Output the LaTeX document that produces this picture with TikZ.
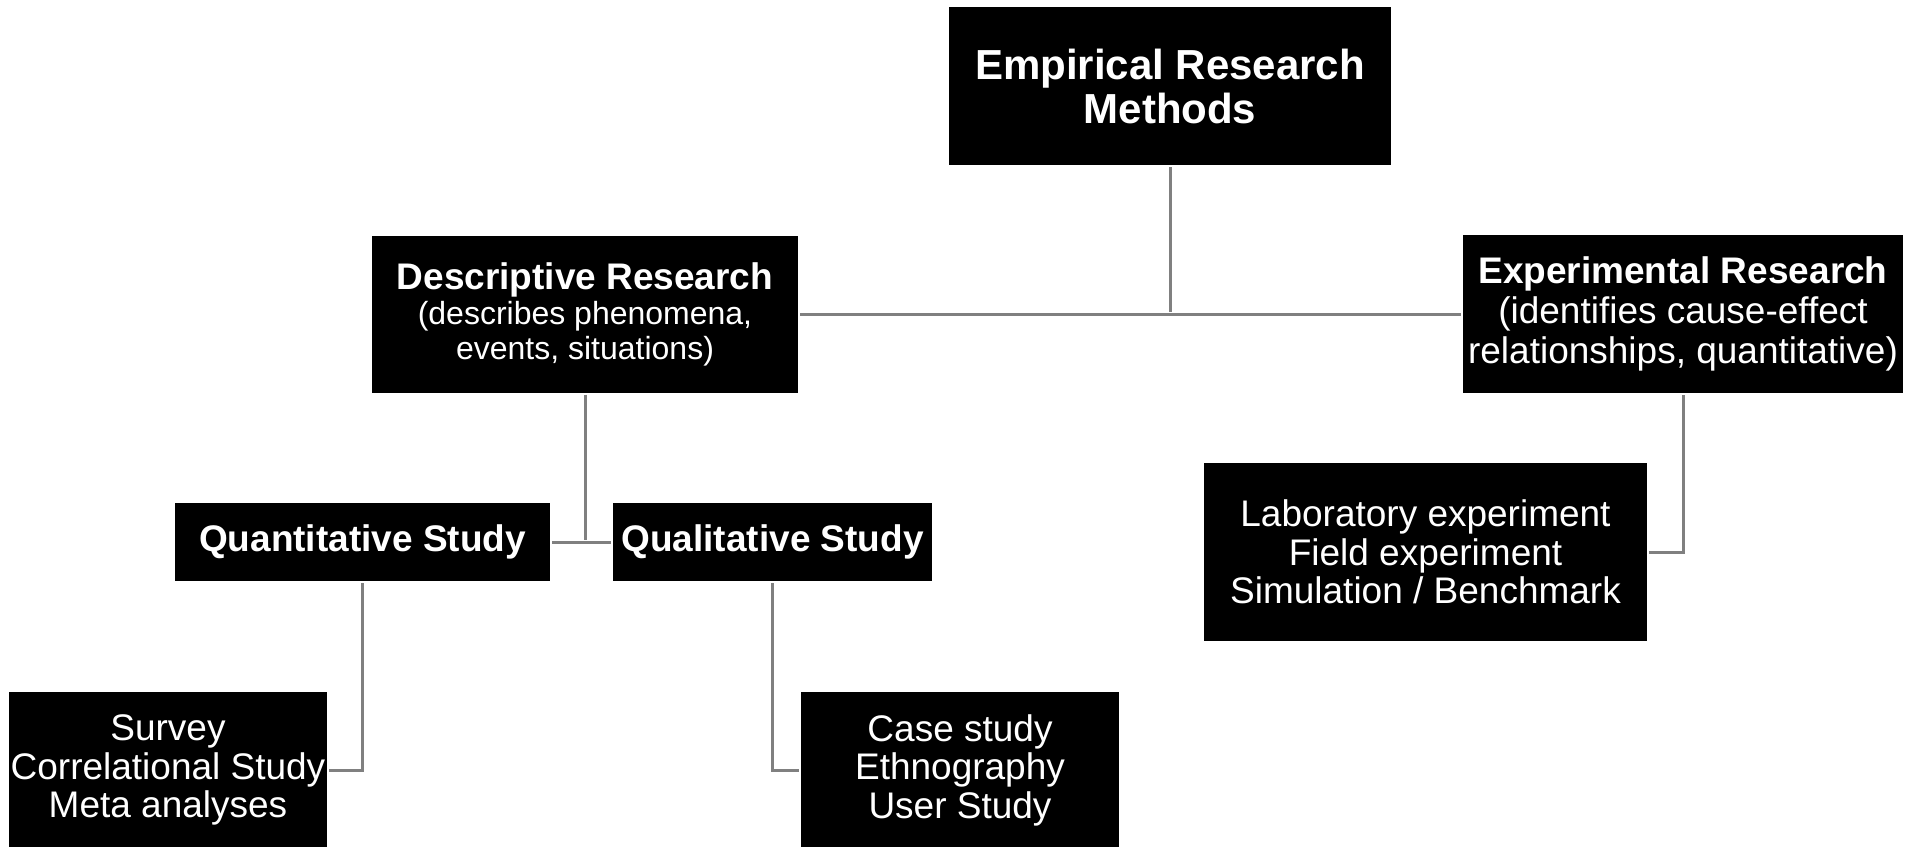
\documentclass[tikz,border=0pt]{standalone}
\usepackage{fontspec}
\setmainfont{Liberation Sans}

\newcommand{\titlesize}{\fontsize{42}{44}\selectfont\bfseries}
\newcommand{\headsize}{\fontsize{37}{40}\selectfont}
\newcommand{\notesize}{\fontsize{32}{35}\selectfont}
\newcommand{\listsize}{\fontsize{37}{38.5}\selectfont}

\tikzset{
  box/.style={fill=black, text=white, align=center, inner sep=0pt},
  link/.style={draw=black!50, line width=3pt, shorten <=2pt, shorten >=2pt},
}

\begin{document}
\begin{tikzpicture}[x=1pt, y=-1pt]
  \useasboundingbox (0,0) rectangle (1911,846);

  % boxes
  \node[box, minimum width=442pt, minimum height=158pt, font=\titlesize] (emp) at (1170,86)
    {Empirical Research\\Methods};
  \node[box, minimum width=426pt, minimum height=157pt, font=\notesize] (desc) at (585,314)
    {\headsize\bfseries Descriptive Research\\
     (describes phenomena,\\ events, situations)};
  \node[box, minimum width=440pt, minimum height=158pt, font=\headsize] (exp) at (1683,314)
    {\bfseries Experimental Research\\
     (identifies cause-effect\\ relationships, quantitative)};
  \node[box, minimum width=375pt, minimum height=78pt, font=\headsize\bfseries] (quant) at (362.5,542)
    {Quantitative Study};
  \node[box, minimum width=319pt, minimum height=78pt, font=\headsize\bfseries] (qual) at (772.5,542)
    {Qualitative Study};
  \node[box, minimum width=443pt, minimum height=178pt, font=\listsize] (lab) at (1425.5,552)
    {Laboratory experiment\\Field experiment\\Simulation / Benchmark};
  \node[box, minimum width=318pt, minimum height=156pt, font=\listsize] (survey) at (168,770)
    {Survey\\Correlational Study\\Meta analyses};
  \node[box, minimum width=318pt, minimum height=156pt, font=\listsize] (cases) at (960,770)
    {Case study\\Ethnography\\User Study};

  % connectors
  \draw[link] (emp.south) -- (emp.south |- desc.east);
  \draw[link] (desc.east) -- (exp.west);
  \draw[link] (desc.south) -- (desc.south |- quant.east);
  \draw[link] (quant.east) -- (qual.west);
  \draw[link] (exp.south) |- (lab.east);
  \draw[link] (quant.south) |- (survey.east);
  \draw[link] (qual.south) |- (cases.west);
\end{tikzpicture}
\end{document}
